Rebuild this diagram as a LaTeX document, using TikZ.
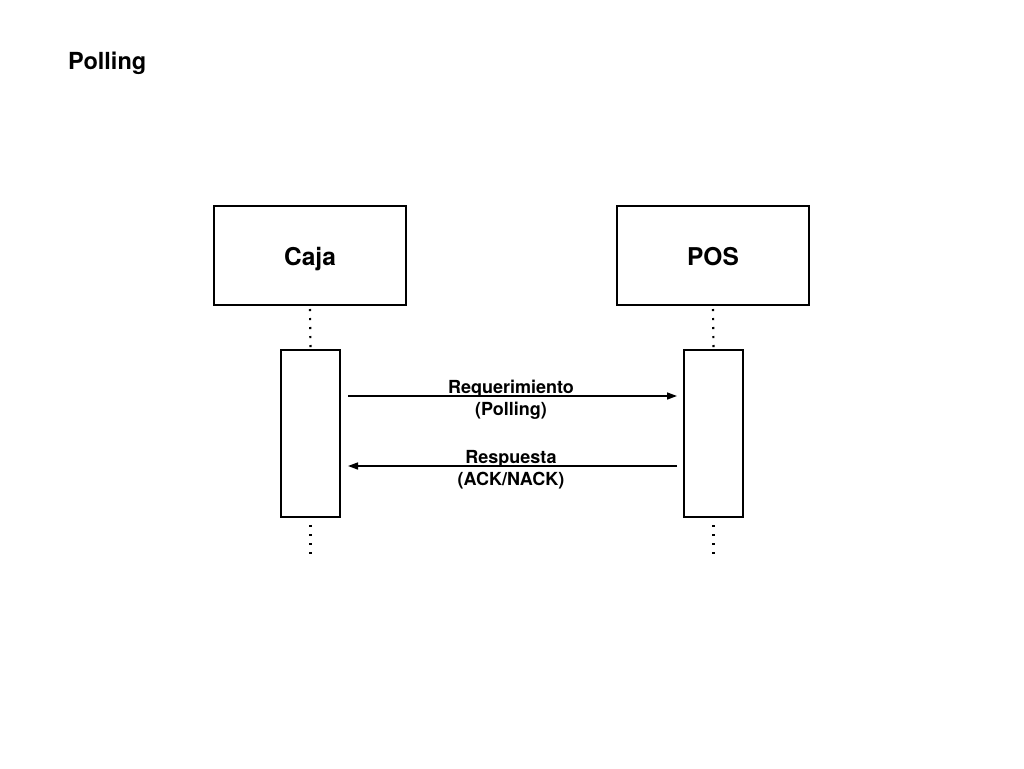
\documentclass[tikz,border=0pt]{standalone}
\usepackage{fontspec}
\setmainfont{TeX Gyre Heros}
\usetikzlibrary{arrows.meta,calc}
\begin{document}
\begin{tikzpicture}[x=1pt,y=-1pt,
  actor/.style={draw,line width=2pt,minimum width=192pt,minimum height=99pt,inner sep=0pt},
  actorlbl/.style={anchor=base,inner sep=0pt,font=\fontsize{24.5}{28}\selectfont\bfseries},
  bar/.style={draw,line width=2pt,minimum width=59pt,minimum height=167pt,inner sep=0pt},
  lifeline/.style={line width=2.2pt,dash pattern=on 2.2pt off 6.8pt},
  msg/.style={line width=1.5pt,-{Triangle[length=10pt,width=7pt]}},
  lbl/.style={anchor=base,font=\fontsize{18}{21}\selectfont\bfseries,inner sep=0pt}]
\useasboundingbox (0,0) rectangle (1024,768);
\node[anchor=base west,inner sep=0pt,font=\fontsize{23.5}{27}\selectfont\bfseries] (title) at (68,70) {Polling};
\node[actor] (caja) at (310,255.5) {};
\node[actor] (pos) at (713,255.5) {};
\node[actorlbl] (cajat) at (310,265.5) {Caja};
\node[actorlbl] (post) at (713,265.5) {POS};
\node[bar] (cajabar) at (310.5,433.5) {};
\node[bar] (posbar) at (713.5,433.5) {};
\coordinate (cajaend) at (310.5,554);
\coordinate (posend) at (713.5,554);
\draw[lifeline] ([yshift=-3pt]caja.south) -- (cajabar.north);
\draw[lifeline] ([yshift=-3pt]pos.south) -- (posbar.north);
\draw[lifeline] ([yshift=-7pt]cajabar.south) -- (cajaend);
\draw[lifeline] ([yshift=-7pt]posbar.south) -- (posend);
\coordinate (r1s) at ($(cajabar.north east)+(7,47)$);
\coordinate (r1e) at ($(posbar.north west)+(-6,47)$);
\coordinate (r2s) at ($(posbar.north west)+(-6,117)$);
\coordinate (r2e) at ($(cajabar.north east)+(7,117)$);
\draw[msg] (r1s) -- (r1e);
\draw[msg] (r2s) -- (r2e);
\node[lbl] (l1a) at (511,393) {Requerimiento};
\node[lbl] (l1b) at (511,415) {(Polling)};
\node[lbl] (l2a) at (511,463.5) {Respuesta};
\node[lbl] (l2b) at (511,485) {(ACK/NACK)};
\end{tikzpicture}
\end{document}
